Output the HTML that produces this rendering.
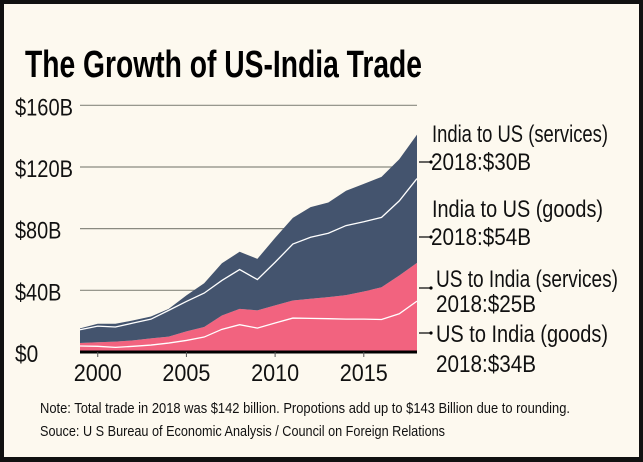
<!DOCTYPE html>
<html><head><meta charset="utf-8"><style>
html,body{margin:0;padding:0;background:#111;}
svg{display:block;font-family:"Liberation Sans Narrow","Liberation Sans",sans-serif;}
</style></head><body>
<svg id="chart" width="643" height="462" viewBox="0 0 643 462">
<rect x="4" y="4" width="635" height="453" fill="#fdf9ef"/>
<text x="25" y="77" font-size="38" font-weight="bold" textLength="397" lengthAdjust="spacingAndGlyphs" fill="#000">The Growth of US-India Trade</text>
<g id="grid"></g>
<g id="areas"></g>
<g id="axes"></g>
<g id="labels"></g>
<text x="40" y="413" font-size="15" textLength="530" lengthAdjust="spacingAndGlyphs" fill="#111">Note: Total trade in 2018 was $142 billion. Propotions add up to $143 Billion due to rounding.</text>
<text x="40" y="436" font-size="15" textLength="405" lengthAdjust="spacingAndGlyphs" fill="#111">Souce: U S Bureau of Economic Analysis / Council on Foreign Relations</text>
</svg>
<script>
const years = [1999,2000,2001,2002,2003,2004,2005,2006,2007,2008,2009,2010,2011,2012,2013,2014,2015,2016,2017,2018];
const usGoods = [3.9,3.7,3,3.7,4.5,5.8,7.5,9.7,14.7,17.7,15.5,18.8,22,21.8,21.6,21.3,21.3,21.1,24.8,33];
const usServices = [1.9,2.6,3.7,3.8,4.3,4.2,5.9,6.5,9,10.3,11.5,11.4,11.4,12.7,14,15.6,17.9,20.9,24.8,24.8];
const indiaGoods = [8.6,10.5,9.5,11.3,12.5,17,19.4,22,22.7,25.5,20,28,36.6,39.9,41.4,45.1,45.3,45.3,48.4,54.7];
const indiaServices = [0.9,1.5,2.1,1.7,1.7,1,3.9,6.4,11.2,11.5,13.4,15.8,17,19.6,20,22.6,24.5,26.3,27,28.5];
const yTicks = [0,40,80,120,160];
const yTickLabels = ["$0","$40B","$80B","$120B","$160B"];
const xTicks = [2000,2005,2010,2015];
const seriesNames = ["US to India  (goods)","US to India (services)","India to US (goods)","India to US (services)"];
const seriesTotals = ["2018:$34B","2018:$25B","2018:$54B","2018:$30B"];

const NS="http://www.w3.org/2000/svg";
const X0=80,X1=417,Y0=352,YT=105.3;
const xs=y=>X0+(y-1999)/(2018-1999)*(X1-X0);
const ys=v=>Y0-v/160*(Y0-YT);
function mk(tag,attrs,parent){const e=document.createElementNS(NS,tag);for(const k in attrs)e.setAttribute(k,attrs[k]);parent.appendChild(e);return e;}
const grid=document.getElementById('grid'),areas=document.getElementById('areas'),axes=document.getElementById('axes'),labels=document.getElementById('labels');

yTicks.forEach((t,i)=>{
  if(t>0){const l=mk('line',{x1:X0,x2:X1,y1:ys(t),y2:ys(t),stroke:'#8a8a80','stroke-width':1.2},grid);
  
  }
  const tx=mk('text',{x:15,y:ys(t)+10,'font-size':24,fill:'#111',textLength:yTickLabels[i].length*11.6,lengthAdjust:'spacingAndGlyphs'},grid);
  tx.textContent=yTickLabels[i];
  
  
});

const series=[usGoods,usServices,indiaGoods,indiaServices];
const colors=['#f2637f','#f2637f','#44546e','#44546e'];
let cum=years.map(()=>0);
const tops=[];
series.forEach((s,k)=>{
  const lower=cum.slice();
  cum=cum.map((c,i)=>c+s[i]);
  tops.push(cum.slice());
  let d='M'+years.map((y,i)=>xs(y)+','+ys(cum[i])).join('L');
  for(let i=years.length-1;i>=0;i--)d+='L'+xs(years[i])+','+ys(lower[i]);
  d+='Z';
  const p=mk('path',{d:d,fill:colors[k]},areas);
  
  
});
[0,2].forEach(k=>{
  const pl=mk('polyline',{points:years.map((y,i)=>xs(y)+','+ys(tops[k][i])).join(' '),fill:'none',stroke:'#fff','stroke-width':1.3},areas);
  
  
});

const base=mk('line',{x1:X0,x2:X1,y1:Y0,y2:Y0,stroke:'#000','stroke-width':3},axes);


xTicks.forEach(t=>{
  const tk=mk('line',{x1:xs(t),x2:xs(t),y1:Y0,y2:Y0+5,stroke:'#555','stroke-width':1},axes);
  
  
  const tx=mk('text',{x:xs(t),y:Y0+29,'font-size':24,fill:'#111','text-anchor':'middle',textLength:48,lengthAdjust:'spacingAndGlyphs'},axes);
  tx.textContent=t;
  
  
});

const nameY=[342,287,217,142], totY=[372,312,245,170], tickY=[333,288,237,162], nameX=[436,436,432,432], nameW=[172,182,171,176];
seriesNames.forEach((n,k)=>{
  const ln=mk('line',{x1:419,x2:431,y1:tickY[k],y2:tickY[k],stroke:'#000','stroke-width':1.2},labels);
  
  
  const dt=mk('circle',{cx:431,cy:tickY[k],r:1.6,fill:'#000'},labels);
  
  
  const t1=mk('text',{x:nameX[k],y:nameY[k],'font-size':24,fill:'#111',textLength:nameW[k],lengthAdjust:'spacingAndGlyphs'},labels);
  t1.textContent=n;
  
  
  const t2=mk('text',{x:nameX[k]-(k>1?1:0),y:totY[k],'font-size':24,fill:'#111',textLength:100,lengthAdjust:'spacingAndGlyphs'},labels);
  t2.textContent=seriesTotals[k];
  
  
});
</script>
</body></html>
